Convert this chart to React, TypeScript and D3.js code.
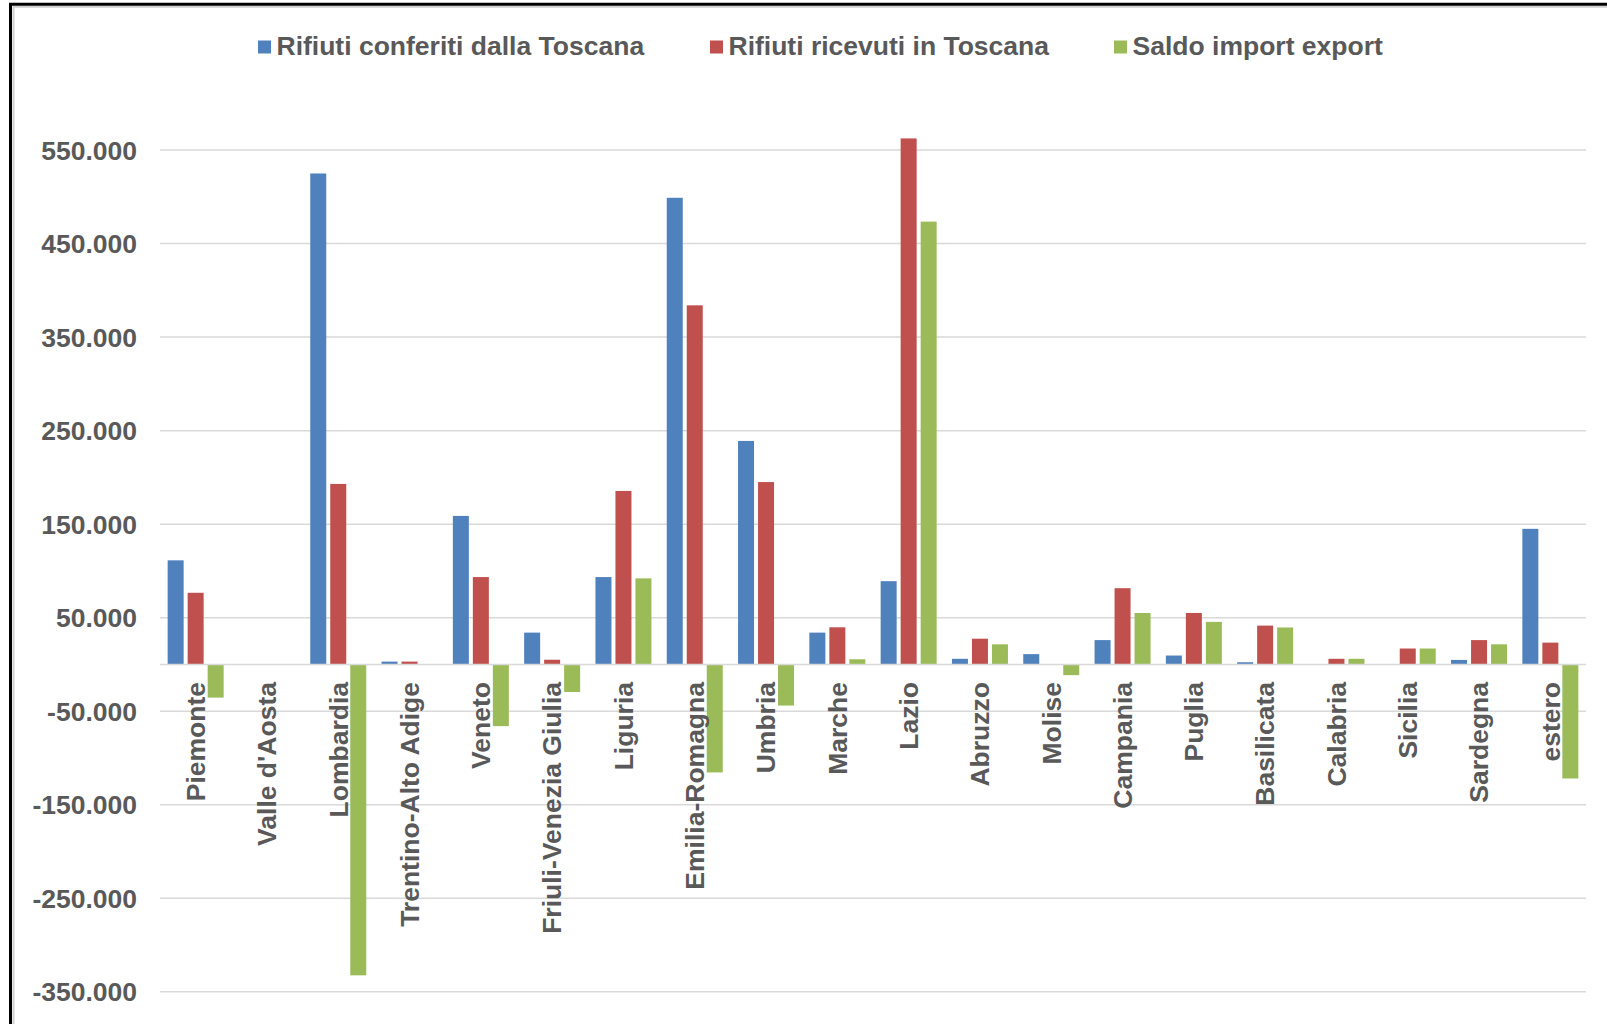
import React, { useEffect, useRef } from "react";
import * as d3 from "d3";

// Regions (x-axis categories)
const categories = [
  "Piemonte", "Valle d'Aosta", "Lombardia", "Trentino-Alto Adige", "Veneto",
  "Friuli-Venezia Giulia", "Liguria", "Emilia-Romagna", "Umbria", "Marche",
  "Lazio", "Abruzzo", "Molise", "Campania", "Puglia", "Basilicata",
  "Calabria", "Sicilia", "Sardegna", "estero",
];

// Tonnes of waste sent out of Tuscany to each region
const conferiti = [
  111300, 0, 525000, 3000, 158800, 34000, 93400, 499000, 239000, 34000,
  89000, 6000, 11000, 26000, 9500, 2300, 0, 0, 4800, 145000,
];

// Tonnes of waste received in Tuscany from each region
const ricevuti = [
  76600, 0, 193000, 3000, 93400, 5000, 185500, 384000, 195000, 39700,
  562500, 27500, 0, 81500, 55000, 41500, 6000, 17000, 26000, 23300,
];

// Import/export balance
const saldo = [
  -35500, 0, -332500, 0, -66000, -29500, 92000, -115500, -44000, 5500,
  473500, 21500, -11500, 55000, 45500, 39500, 6000, 17000, 21500, -122000,
];

const seriesNames = [
  "Rifiuti conferiti dalla Toscana",
  "Rifiuti ricevuti in Toscana",
  "Saldo import export",
];
const seriesColors = ["#4F81BD", "#C0504D", "#9BBB59"];

const yTicks = [-350000, -250000, -150000, -50000, 50000, 150000, 250000, 350000, 450000, 550000];

const W = 1607;
const H = 1024;
const FONT = "'Liberation Sans', Arial, sans-serif";
const TEXT = "#595959";

const fmt = (v: number) => {
  const s = Math.abs(v).toString().replace(/\B(?=(\d{3})+(?!\d))/g, ".");
  return (v < 0 ? "-" : "") + s;
};

export default function App() {
  const ref = useRef<SVGSVGElement | null>(null);

  useEffect(() => {
    const svg = d3.select(ref.current);
    svg.selectAll("*").remove();

    const plotLeft = 160;
    const plotRight = 1586;

    const y = d3.scaleLinear().domain([-350000, 550000]).range([991.7, 150.1]);

    const x0 = d3
      .scaleBand<string>()
      .domain(categories)
      .range([plotLeft, plotRight])
      .paddingInner(0.2146)
      .paddingOuter(0.1073);

    const x1 = d3
      .scaleBand<number>()
      .domain([0, 1, 2])
      .range([0, x0.bandwidth()])
      .paddingInner(0.2)
      .paddingOuter(0);

    svg.append("rect").attr("width", W).attr("height", H).attr("fill", "#ffffff");

    // frame
    svg.append("line").attr("x1", 13.5).attr("x2", 13.5).attr("y1", 6).attr("y2", H)
      .attr("stroke", "#d0d0d0").attr("stroke-width", 2);
    svg.append("line").attr("x1", 13).attr("x2", W).attr("y1", 6.8).attr("y2", 6.8)
      .attr("stroke", "#d0d0d0").attr("stroke-width", 2);
    svg.append("line").attr("x1", 10.5).attr("x2", 10.5).attr("y1", 3).attr("y2", H)
      .attr("stroke", "#000").attr("stroke-width", 3);
    svg.append("line").attr("x1", 9).attr("x2", W).attr("y1", 4.3).attr("y2", 4.3)
      .attr("stroke", "#000").attr("stroke-width", 3);

    // gridlines
    svg.append("g")
      .selectAll("line")
      .data(yTicks)
      .join("line")
      .attr("x1", plotLeft)
      .attr("x2", plotRight)
      .attr("y1", (d) => y(d))
      .attr("y2", (d) => y(d))
      .attr("stroke", "#d9d9d9")
      .attr("stroke-width", 1.5);

    // y tick labels
    svg.append("g")
      .selectAll("text")
      .data(yTicks)
      .join("text")
      .attr("x", 137)
      .attr("y", (d) => y(d))
      .attr("dy", "0.36em")
      .attr("text-anchor", "end")
      .attr("font-family", FONT)
      .attr("font-weight", "bold")
      .attr("font-size", 26.5)
      .attr("fill", TEXT)
      .text((d) => fmt(d));

    // bars
    const series = [conferiti, ricevuti, saldo];
    const g = svg.append("g");
    categories.forEach((cat, ci) => {
      series.forEach((vals, si) => {
        const v = vals[ci];
        if (!v) return;
        const bx = (x0(cat) as number) + (x1(si) as number);
        g.append("rect")
          .attr("x", bx)
          .attr("width", x1.bandwidth())
          .attr("y", Math.min(y(v), y(0)))
          .attr("height", Math.abs(y(v) - y(0)))
          .attr("fill", seriesColors[si]);
      });
    });

    // zero axis line
    svg.append("line")
      .attr("x1", plotLeft)
      .attr("x2", plotRight)
      .attr("y1", y(0))
      .attr("y2", y(0))
      .attr("stroke", "#d9d9d9")
      .attr("stroke-width", 1.5);

    // category labels (rotated)
    svg.append("g")
      .selectAll("text")
      .data(categories)
      .join("text")
      .attr("transform", (d) => `translate(${(x0(d) as number) + x0.bandwidth() / 2},682) rotate(-90)`)
      .attr("dy", "0.35em")
      .attr("text-anchor", "end")
      .attr("font-family", FONT)
      .attr("font-weight", "bold")
      .attr("font-size", 26.5)
      .attr("fill", TEXT)
      .text((d) => d);

    // legend
    const legendX = [258, 710, 1114];
    const lg = svg.append("g");
    seriesNames.forEach((name, i) => {
      lg.append("rect")
        .attr("x", legendX[i])
        .attr("y", 40.5)
        .attr("width", 13)
        .attr("height", 13)
        .attr("fill", seriesColors[i]);
      lg.append("text")
        .attr("x", legendX[i] + 18.5)
        .attr("y", 55)
        .attr("font-family", FONT)
        .attr("font-weight", "bold")
        .attr("font-size", 26.5)
        .attr("fill", TEXT)
        .text(name);
    });
  }, []);

  return (
    <div style={{ position: "absolute", left: 0, top: 0 }}>
      <svg ref={ref} width={W} height={H} style={{ display: "block" }} />
    </div>
  );
}
